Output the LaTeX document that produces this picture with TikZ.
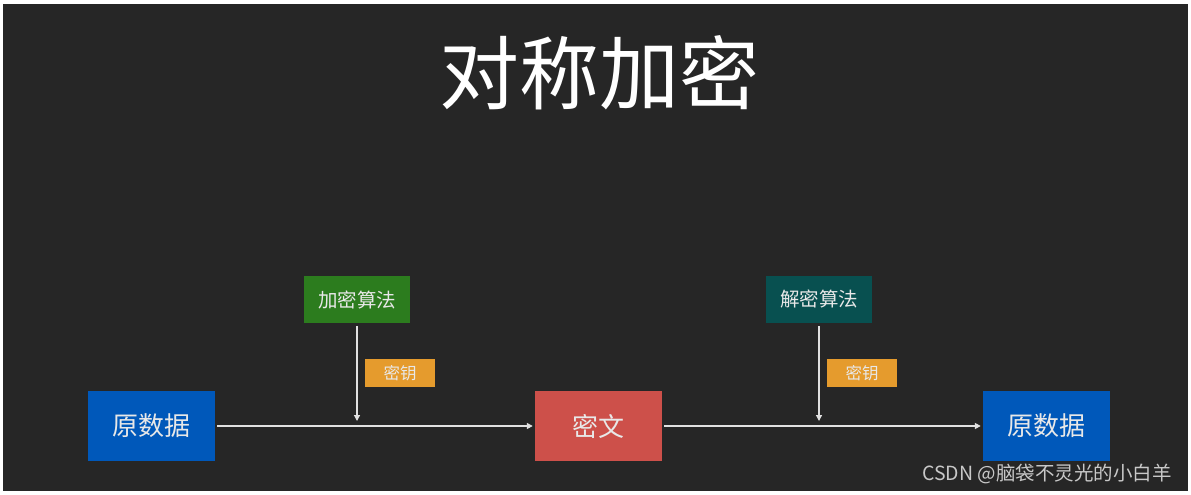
\documentclass[tikz,border=0pt]{standalone}
\usepackage{fontspec}
\setmainfont{Noto Sans CJK SC}
\newfontfamily\cjk{Noto Sans CJK SC}
\usetikzlibrary{arrows.meta}
\definecolor{bg}{RGB}{38,38,38}
\definecolor{cblue}{RGB}{0,88,186}
\definecolor{cred}{RGB}{205,80,74}
\definecolor{cgreen}{RGB}{44,124,30}
\definecolor{cteal}{RGB}{8,80,80}
\definecolor{corange}{RGB}{229,155,45}
\definecolor{ctext}{RGB}{232,232,232}
\definecolor{cline}{RGB}{225,225,225}
\definecolor{cmark}{RGB}{200,200,200}
\tikzset{
  bigbox/.style={minimum width=127pt,minimum height=70pt,inner sep=0pt,text=ctext,font=\cjk\fontsize{26}{26}\selectfont},
  algbox/.style={minimum width=106pt,minimum height=47pt,inner sep=0pt,text=ctext,font=\cjk\fontsize{19.5}{19.5}\selectfont},
  keybox/.style={fill=corange,minimum width=70pt,minimum height=28pt,inner sep=0pt,text=ctext,font=\cjk\fontsize{16.5}{16.5}\selectfont},
  harrow/.style={draw=cline,line width=1.8pt,-{Triangle[width=6pt,length=6pt]}},
  varrow/.style={draw=cline,line width=1.3pt,-{Triangle[width=6pt,length=6pt]}}
}
\begin{document}
\begin{tikzpicture}[x=1pt,y=-1pt]
\fill[white] (0,0) rectangle (1191,495);
\fill[bg] (3,4) rectangle (1188,491);
\useasboundingbox (0,0) rectangle (1191,495);
\node[text=white,font=\cjk\fontsize{80}{80}\selectfont,inner sep=0pt] (title) at (599,73) {对称加密};
\node[bigbox,fill=cblue] (src) at (151.5,426) {原数据};
\node[bigbox,fill=cred] (mw) at (598.5,426) {密文};
\node[bigbox,fill=cblue] (dst) at (1046.5,426) {原数据};
\node[algbox,fill=cgreen] (enc) at (357,299.5) {加密算法};
\node[algbox,fill=cteal] (dec) at (819,299.5) {解密算法};
\node[keybox] (k1) at (400,373) {密钥};
\node[keybox] (k2) at (862,373) {密钥};
\coordinate (e1) at (357,421);
\coordinate (e2) at (819,421);
\draw[harrow,shorten <=2pt,shorten >=2pt] (src.east) -- (mw.west);
\draw[harrow,shorten <=2pt,shorten >=2pt] (mw.east) -- (dst.west);
\draw[varrow,shorten <=3pt] (enc.south) -- (e1);
\draw[varrow,shorten <=3pt] (dec.south) -- (e2);
\node[text=cmark,font=\cjk\fontsize{19.5}{19.5}\selectfont,anchor=west,inner sep=0pt] (wm) at (922,474) {CSDN @脑袋不灵光的小白羊};
\end{tikzpicture}
\end{document}
